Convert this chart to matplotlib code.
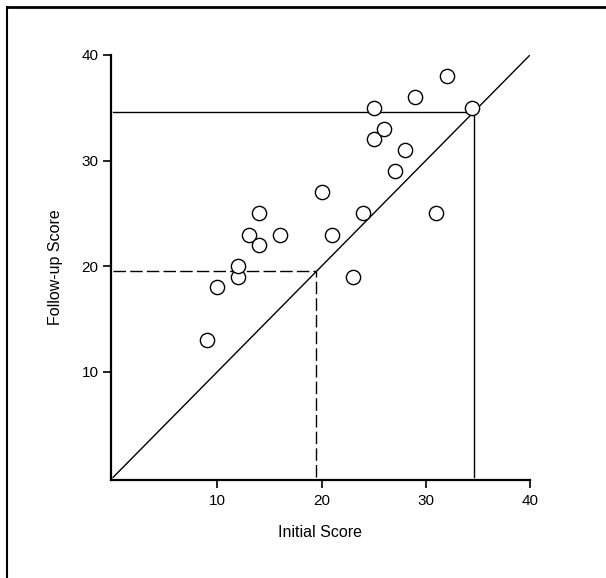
import matplotlib
matplotlib.use("Agg")
import matplotlib.pyplot as plt
from matplotlib.lines import Line2D
from matplotlib import font_manager

cands = [f.name for f in font_manager.fontManager.ttflist if 'condensed' in str(f.stretch).lower() or 'Narrow' in f.name or 'Condensed' in f.name]
fam = ['Liberation Sans Narrow'] if 'Liberation Sans Narrow' in cands else []
plt.rcParams['font.family'] = fam + ['Liberation Sans', 'DejaVu Sans']
stretch = 'condensed'

initial = [9, 10, 12, 12, 13, 14, 14, 16, 20, 21, 23, 24, 25, 25, 26, 27, 28, 29, 31, 32, 34.4]
followup = [13, 18, 19, 20, 23, 22, 25, 23, 27, 23, 19, 25, 32, 35, 33, 29, 31, 36, 25, 38, 35]
ticks = [10, 20, 30, 40]
median_initial_lo = 19.5
median_follow_lo = 19.5
median_initial_hi = 34.6
median_follow_hi = 34.6

W, H = 606, 578
fig = plt.figure(figsize=(W / 100, H / 100), dpi=100)
ax = fig.add_axes([111 / W, 1 - 480 / H, (530 - 111) / W, (480 - 55) / H])

ax.set_xlim(-0.2, 40)
ax.set_ylim(-0.25, 40)

ax.plot([0, 40], [0, 40], color='black', lw=1.0)
ax.plot([0, median_initial_hi], [median_follow_hi, median_follow_hi], color='black', lw=1.0)
ax.plot([median_initial_hi, median_initial_hi], [0, median_follow_hi], color='black', lw=1.0)
ax.plot([0, median_initial_lo], [median_follow_lo, median_follow_lo], color='black', lw=1.0,
        dashes=(9, 3))
ax.plot([median_initial_lo, median_initial_lo], [0, median_follow_lo], color='black', lw=1.0,
        dashes=(9, 3))

ax.scatter(initial, followup, s=105, facecolor='white', edgecolor='black', linewidth=1.0, zorder=3)

for s in ['top', 'right']:
    ax.spines[s].set_visible(False)
for s in ['left', 'bottom']:
    ax.spines[s].set_linewidth(1.6)

ax.set_xticks(ticks)
ax.set_yticks(ticks)
ax.set_xticklabels([str(t) for t in ticks], fontstretch=stretch)
ax.set_yticklabels([str(t) for t in ticks], fontstretch=stretch)
ax.tick_params(direction='out', length=6, width=1.2, labelsize=11, pad=3)
ax.tick_params(axis='x', pad=4)

ax.set_xlabel('Initial Score', fontsize=11.5, labelpad=12, fontstretch=stretch)
ax.set_ylabel('Follow-up Score', fontsize=11.5, labelpad=13, fontstretch=stretch)

fig.add_artist(Line2D([7 / W, 1], [1 - 7 / H, 1 - 7 / H], color='black', lw=2.0,
                      transform=fig.transFigure))
fig.add_artist(Line2D([7 / W, 7 / W], [0, 1 - 7 / H], color='black', lw=1.5,
                      transform=fig.transFigure))

fig.savefig('out.png', dpi=100)
